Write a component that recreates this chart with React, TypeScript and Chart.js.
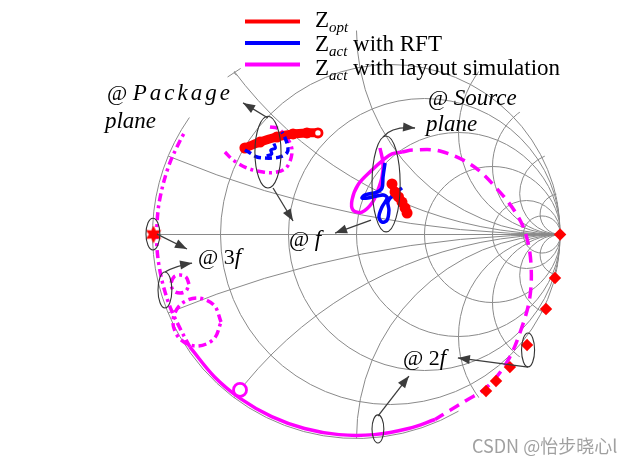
import React, { useEffect, useRef } from 'react';
import { Chart, registerables } from 'chart.js';

Chart.register(...registerables);

// ---------- Smith chart grid values ----------
const resistanceCircles = [0.2, 0.5, 1, 2, 5, 10];
const reactanceArcs = [0.2, 0.5, 1, 2, 3, 5, 10, -0.2, -0.5, -1, -2, -3, -5, -10];

// ---------- Data (reflection coefficient Γ = [re, im]) ----------
// Z_opt
const zOptPackage: [number, number][] = [
  [-0.547, 0.424], [-0.473, 0.453], [-0.39, 0.478], [-0.311, 0.493], [-0.243, 0.498], [-0.189, 0.498],
];
const zOptSource: [number, number][] = [
  [0.174, 0.248], [0.189, 0.208], [0.206, 0.184], [0.223, 0.159], [0.238, 0.13], [0.248, 0.105],
];
const zOptFundStar: [number, number][] = [[-0.995, 0.0]];
const zOptHarmonics: [number, number][] = [
  [0.998, 0.0], [0.973, -0.213], [0.929, -0.365], [0.836, -0.542], [0.752, -0.65], [0.684, -0.718], [0.635, -0.767],
];
// Z_act with RFT
const zRftPackage: [number, number][] = [
  [-0.547, 0.414], [-0.522, 0.4], [-0.488, 0.38], [-0.449, 0.375], [-0.409, 0.375], [-0.375, 0.38],
  [-0.341, 0.4], [-0.336, 0.429], [-0.35, 0.473], [-0.365, 0.502],
];
const zRftPackageCurl: [number, number][] = [
  [-0.44, 0.385], [-0.415, 0.395], [-0.42, 0.414], [-0.398, 0.424], [-0.405, 0.446],
];
const zRftSource: [number, number][] = [
  [0.14, 0.35], [0.13, 0.282], [0.125, 0.228], [0.1, 0.208], [0.042, 0.194], [0.027, 0.179], [0.056, 0.179],
  [0.13, 0.194], [0.15, 0.179], [0.125, 0.135], [0.11, 0.086], [0.125, 0.061], [0.15, 0.071], [0.159, 0.12],
  [0.154, 0.159], [0.179, 0.194], [0.223, 0.228],
];
// Z_act with layout simulation
const zLayPackage: [number, number][] = [
  [-0.645, 0.404], [-0.605, 0.365], [-0.537, 0.326], [-0.458, 0.306], [-0.39, 0.306], [-0.341, 0.331],
  [-0.316, 0.4], [-0.326, 0.449], [-0.36, 0.498], [-0.39, 0.522], [-0.424, 0.527],
];
const zLaySourceLoop: [number, number][] = [
  [0.115, 0.424], [0.13, 0.35], [0.125, 0.282], [0.105, 0.218], [0.076, 0.154], [0.027, 0.11], [-0.017, 0.12],
  [-0.022, 0.169], [0.007, 0.243], [0.076, 0.316], [0.13, 0.365], [0.174, 0.395], [0.223, 0.404],
];
const zLayDashed: [number, number][] = [
  [0.223, 0.404], [0.277, 0.414], [0.409, 0.409], [0.571, 0.336], [0.703, 0.208], [0.787, 0.096], [0.831, -0.002],
  [0.855, -0.14], [0.85, -0.306], [0.806, -0.468], [0.738, -0.625], [0.64, -0.748], [0.542, -0.811],
  [0.444, -0.87], [0.385, -0.907],
];
const zLayBottom: [number, number][] = [
  [0.385, -0.907], [0.255, -0.951], [0.086, -0.981], [-0.086, -0.981], [-0.255, -0.951], [-0.416, -0.893],
  [-0.565, -0.807], [-0.697, -0.697], [-0.817, -0.551],
];
const zLayRim: [number, number][] = [
  [-0.817, -0.551], [-0.865, -0.46], [-0.909, -0.367], [-0.942, -0.27], [-0.965, -0.17], [-0.978, -0.068],
  [-0.979, 0.034], [-0.965, 0.17], [-0.921, 0.335], [-0.865, 0.46], [-0.84, 0.505],
];
const zLayLoopLarge: [number, number][] = [
  [-0.664, -0.429], [-0.699, -0.346], [-0.782, -0.311], [-0.865, -0.346], [-0.9, -0.429], [-0.865, -0.512],
  [-0.782, -0.547], [-0.699, -0.512], [-0.664, -0.429],
];
const zLayLoopSmall: [number, number][] = [
  [-0.821, -0.243], [-0.836, -0.208], [-0.865, -0.199], [-0.895, -0.208], [-0.909, -0.243], [-0.895, -0.277],
  [-0.865, -0.287], [-0.836, -0.277], [-0.821, -0.243],
];
const zLayMarker: [number, number][] = [[-0.571, -0.762]];

// ---------- Annotations (in Γ coordinates) ----------
const ellipses: [number, number, number, number][] = [
  [-0.434, 0.404, 0.064, 0.176],
  [0.145, 0.248, 0.069, 0.235],
  [-0.998, 0.002, 0.034, 0.078],
  [-0.939, -0.272, 0.034, 0.088],
  [0.841, -0.566, 0.032, 0.083],
  [0.105, -0.953, 0.029, 0.069],
];
const arrows: [number, number][][] = [
  [[-0.434, 0.571], [-0.556, 0.645]],
  [[-0.409, 0.228], [-0.311, 0.066]],
  [[0.13, 0.478], [0.174, 0.532], [0.287, 0.522]],
  [[0.071, 0.071], [-0.105, 0.007]],
  [[-0.978, 0.002], [-0.831, -0.071]],
  [[-0.939, -0.184], [-0.89, -0.154], [-0.806, -0.14]],
  [[0.841, -0.65], [0.497, -0.605]],
  [[0.105, -0.89], [0.257, -0.694]],
];
const tickMarks: [number, number][][] = [
  [[-0.632, 0.772], [-0.568, 0.814]],
  [[-0.6, 0.793], [-0.588, 0.78]],
];
const labels: { at: [number, number]; pre: string; text: string; spacing?: number }[] = [
  { at: [-1.223, 0.659], pre: '@ ', text: 'Package', spacing: 3 },
  { at: [-1.233, 0.522], pre: '', text: 'plane' },
  { at: [0.35, 0.635], pre: '@ ', text: 'Source' },
  { at: [0.341, 0.507], pre: '', text: 'plane' },
  { at: [-0.331, -0.056], pre: '@ ', text: 'f' },
  { at: [-0.777, -0.145], pre: '@ 3', text: 'f' },
  { at: [0.228, -0.64], pre: '@ 2', text: 'f' },
];
const legendItems = [
  { color: '#ff0000', sub: 'opt', rest: '' },
  { color: '#0000ff', sub: 'act', rest: ' with RFT' },
  { color: '#ff00ff', sub: 'act', rest: ' with layout simulation' },
];

// ---------- Layout ----------
const W = 638;
const H = 466;
const CX = 356.5;
const CY = 234.5;
const RAD = 204;
const SERIF = '"Liberation Serif", "Times New Roman", serif';

const toXY = (a: [number, number][]) => a.map(([re, im]) => ({ x: re, y: im }));

function makeStar(): HTMLCanvasElement {
  const c = document.createElement('canvas');
  c.width = 20;
  c.height = 20;
  const g = c.getContext('2d')!;
  g.fillStyle = '#ff0000';
  g.beginPath();
  for (let i = 0; i < 12; i++) {
    const r = i % 2 === 0 ? 9 : 4.6;
    const a = -Math.PI / 2 + (i * Math.PI) / 6;
    const px = 10 + r * Math.cos(a);
    const py = 10 + r * Math.sin(a);
    if (i === 0) g.moveTo(px, py);
    else g.lineTo(px, py);
  }
  g.closePath();
  g.fill();
  return c;
}

const deg = Math.PI / 180;

const smithGrid = {
  id: 'smithGrid',
  beforeDatasetsDraw(chart: any) {
    const { ctx, scales } = chart;
    const sx = scales.x;
    const sy = scales.y;
    const cx = sx.getPixelForValue(0);
    const cy = sy.getPixelForValue(0);
    const R = sx.getPixelForValue(1) - cx;
    ctx.save();
    ctx.strokeStyle = '#8a8a8a';
    ctx.lineWidth = 1;
    // outer boundary (only the left / lower part is drawn in the figure)
    ctx.beginPath();
    ctx.arc(cx, cy, R, 60 * deg, 215 * deg);
    ctx.stroke();
    ctx.beginPath();
    ctx.arc(cx, cy, R, 0, Math.PI * 2);
    ctx.clip();
    ctx.beginPath();
    ctx.moveTo(cx - R, cy);
    ctx.lineTo(cx + R, cy);
    ctx.stroke();
    resistanceCircles.forEach((r) => {
      ctx.beginPath();
      ctx.arc(cx + (r / (1 + r)) * R, cy, R / (1 + r), 0, Math.PI * 2);
      ctx.stroke();
    });
    reactanceArcs.forEach((xv) => {
      ctx.beginPath();
      ctx.arc(cx + R, cy - (1 / xv) * R, Math.abs(1 / xv) * R, 0, Math.PI * 2);
      ctx.stroke();
    });
    ctx.restore();
  },
};

function arrowHead(ctx: CanvasRenderingContext2D, fx: number, fy: number, tx: number, ty: number) {
  const a = Math.atan2(ty - fy, tx - fx);
  const L = 12;
  const Wd = 4.5;
  ctx.beginPath();
  ctx.moveTo(tx, ty);
  ctx.lineTo(tx - L * Math.cos(a) + Wd * Math.sin(a), ty - L * Math.sin(a) - Wd * Math.cos(a));
  ctx.lineTo(tx - L * Math.cos(a) - Wd * Math.sin(a), ty - L * Math.sin(a) + Wd * Math.cos(a));
  ctx.closePath();
  ctx.fill();
}

const annotations = {
  id: 'annotations',
  afterDatasetsDraw(chart: any) {
    const { ctx, scales } = chart;
    const sx = scales.x;
    const sy = scales.y;
    const P = (p: [number, number]) => [sx.getPixelForValue(p[0]), sy.getPixelForValue(p[1])];
    const unit = sx.getPixelForValue(1) - sx.getPixelForValue(0);
    ctx.save();
    // small tick mark at the end of the x=0.5 arc
    ctx.strokeStyle = '#8a8a8a';
    ctx.lineWidth = 1;
    tickMarks.forEach((seg) => {
      const [a, b] = seg.map(P);
      ctx.beginPath();
      ctx.moveTo(a[0], a[1]);
      ctx.lineTo(b[0], b[1]);
      ctx.stroke();
    });
    // ellipses
    ctx.strokeStyle = '#333333';
    ctx.lineWidth = 1.1;
    ellipses.forEach(([ex, ey, rx, ry]) => {
      const [px, py] = P([ex, ey]);
      ctx.beginPath();
      ctx.ellipse(px, py, rx * unit, ry * unit, 0, 0, Math.PI * 2);
      ctx.stroke();
    });
    // arrows
    ctx.strokeStyle = '#3c3c3c';
    ctx.fillStyle = '#3c3c3c';
    ctx.lineWidth = 1.3;
    arrows.forEach((pts) => {
      const pp = pts.map(P);
      ctx.beginPath();
      ctx.moveTo(pp[0][0], pp[0][1]);
      if (pp.length === 3) ctx.quadraticCurveTo(pp[1][0], pp[1][1], pp[2][0], pp[2][1]);
      else ctx.lineTo(pp[1][0], pp[1][1]);
      ctx.stroke();
      const a = pp[pp.length - 2];
      const b = pp[pp.length - 1];
      arrowHead(ctx, a[0], a[1], b[0], b[1]);
    });
    // labels
    ctx.fillStyle = '#000000';
    ctx.textBaseline = 'alphabetic';
    ctx.textAlign = 'left';
    labels.forEach((l) => {
      const [px, py] = P(l.at);
      let x = px;
      if (l.pre) {
        ctx.font = `22px ${SERIF}`;
        (ctx as any).letterSpacing = '0px';
        ctx.fillText(l.pre, x, py);
        x += ctx.measureText(l.pre).width;
      }
      ctx.font = `italic 23px ${SERIF}`;
      (ctx as any).letterSpacing = `${l.spacing || 0}px`;
      ctx.fillText(l.text, x, py);
      (ctx as any).letterSpacing = '0px';
    });
    // legend
    legendItems.forEach((it, i) => {
      const ly = 21.5 + i * 21.5;
      ctx.strokeStyle = it.color;
      ctx.lineWidth = 4;
      ctx.beginPath();
      ctx.moveTo(245, ly);
      ctx.lineTo(300, ly);
      ctx.stroke();
      const by = 27 + i * 24;
      let x = 315;
      ctx.fillStyle = '#000000';
      ctx.font = `23px ${SERIF}`;
      ctx.fillText('Z', x, by);
      x += ctx.measureText('Z').width;
      ctx.font = `italic 15px ${SERIF}`;
      ctx.fillText(it.sub, x, by + 5);
      x += ctx.measureText(it.sub).width;
      if (it.rest) {
        ctx.font = `23px ${SERIF}`;
        ctx.fillText(it.rest, x, by);
      }
    });
    // watermark
    ctx.font = '18px "Noto Sans CJK SC", "Noto Sans", sans-serif';
    ctx.fillStyle = 'rgba(120,120,120,0.7)';
    ctx.fillText('CSDN @怡步晓心l', 472, 453);
    ctx.restore();
  },
};

export default function App() {
  const ref = useRef<HTMLCanvasElement>(null);
  useEffect(() => {
    const star = makeStar();
    const line = (data: [number, number][], color: string, width: number, dash: number[], order: number, extra: any = {}) => ({
      data: toXY(data),
      showLine: true,
      borderColor: color,
      backgroundColor: color,
      borderWidth: width,
      borderDash: dash,
      pointRadius: 0,
      tension: 0.35,
      fill: false,
      clip: false,
      order,
      borderCapStyle: 'butt',
      borderJoinStyle: 'round',
      ...extra,
    });
    const RED = '#ff0000';
    const BLUE = '#0000ff';
    const MAG = '#ff00ff';
    const dashDot = [8, 4, 3, 4];
    const chart = new Chart(ref.current!, {
      type: 'scatter',
      data: {
        datasets: [
          line(zRftPackage, BLUE, 3.5, [7, 4], 1),
          line(zRftPackageCurl, BLUE, 3.2, [], 1),
          line(zRftSource, BLUE, 3.5, [], 1),
          line(zOptPackage, RED, 9, [], 2, { pointRadius: 5.5, pointBorderWidth: 0, borderCapStyle: 'round' }),
          line(zOptSource, RED, 7, [], 0, { pointRadius: 5.5, pointBorderWidth: 0, borderCapStyle: 'round' }),
          {
            data: toXY([zOptPackage[zOptPackage.length - 1]]),
            showLine: false,
            pointRadius: 3.8,
            pointBackgroundColor: '#ffffff',
            pointBorderColor: RED,
            pointBorderWidth: 2.2,
            clip: false,
            order: -1,
          },
          {
            data: toXY(zOptFundStar),
            showLine: false,
            pointStyle: star,
            clip: false,
            order: -1,
          },
          {
            data: toXY(zOptHarmonics),
            showLine: false,
            pointStyle: 'rectRot',
            pointRadius: 6.2,
            pointBackgroundColor: RED,
            pointBorderWidth: 0,
            clip: false,
            order: -1,
          },
          line(zLayPackage, MAG, 3.5, dashDot, 3),
          line(zLaySourceLoop, MAG, 3.5, [], 3),
          line(zLayDashed, MAG, 3.5, [11, 7], 3),
          line(zLayBottom, MAG, 3.5, [], 3),
          line(zLayRim, MAG, 3.5, dashDot, 3),
          line(zLayLoopLarge, MAG, 3.5, dashDot, 3),
          line(zLayLoopSmall, MAG, 3.5, dashDot, 3),
          {
            data: toXY(zLayMarker),
            showLine: false,
            pointRadius: 6.5,
            pointBackgroundColor: '#ffffff',
            pointBorderColor: MAG,
            pointBorderWidth: 2.8,
            clip: false,
            order: 2,
          },
        ] as any,
      },
      options: {
        animation: false,
        responsive: false,
        events: [],
        layout: { padding: 0, autoPadding: false },
        plugins: { legend: { display: false }, tooltip: { enabled: false } },
        scales: {
          x: { type: 'linear', bounds: 'data', min: -CX / RAD, max: (W - CX) / RAD, display: false },
          y: { type: 'linear', bounds: 'data', min: -(H - CY) / RAD, max: CY / RAD, display: false },
        },
      },
      plugins: [smithGrid, annotations],
    } as any);
    return () => chart.destroy();
  }, []);
  return (
    <div style={{ position: 'absolute', left: 0, top: 0, width: W, height: H, background: '#ffffff' }}>
      <canvas ref={ref} width={W} height={H} style={{ display: 'block' }} />
    </div>
  );
}
